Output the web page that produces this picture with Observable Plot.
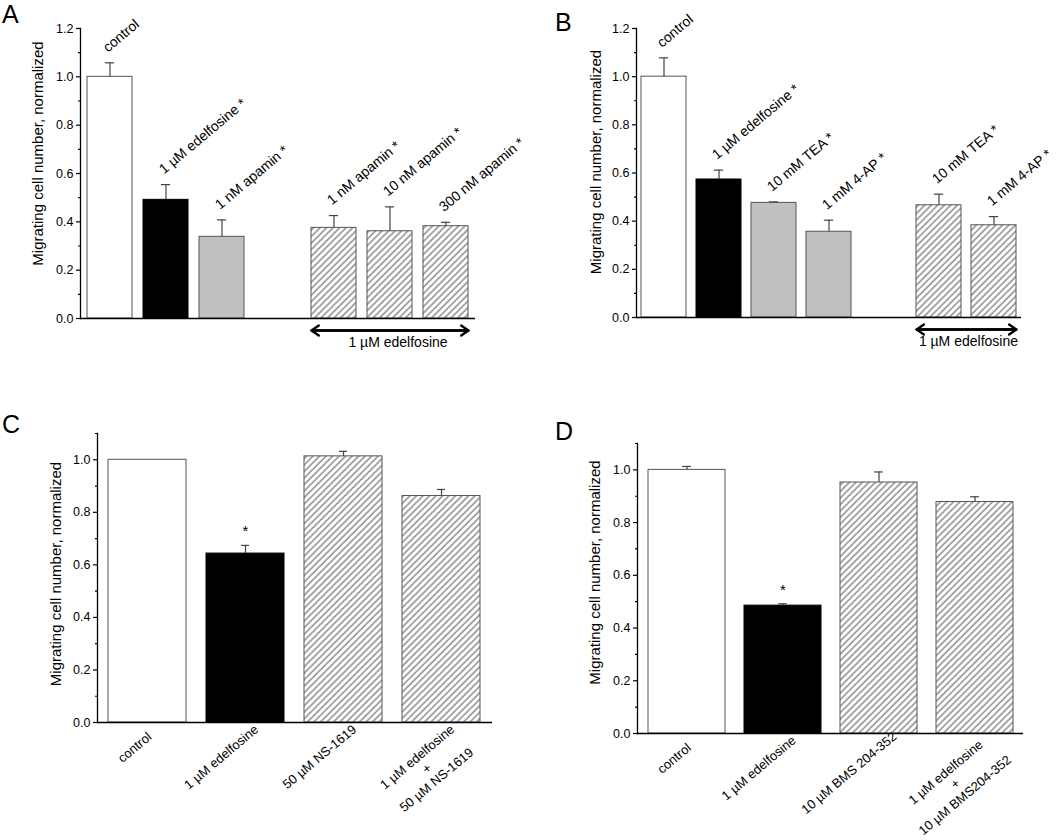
<!DOCTYPE html>
<html><head><meta charset="utf-8">
<script src="https://cdn.jsdelivr.net/npm/d3@7"></script>
<script src="https://cdn.jsdelivr.net/npm/@observablehq/plot@0.6"></script>
<style>
body{margin:0;background:#fff;font-family:"Liberation Sans",Arial,sans-serif}
#fig{position:relative;width:1063px;height:840px;background:#fff}
.panel{position:absolute}
.letter{position:absolute;font-size:25px;line-height:1;font-family:"Liberation Sans",Arial,sans-serif;color:#000}
</style></head><body><div id="fig"></div>
<script>
const FONT = '"Liberation Sans", Arial, Helvetica, sans-serif';
const yLabel = "Migrating cell number, normalized";

// ---- Panel A ----
const keysA = ["control", "edelfosine", "apamin 1 nM", "edelfosine + apamin 1 nM", "edelfosine + apamin 10 nM", "edelfosine + apamin 300 nM"];
const labelsA = ["control", "1 µM edelfosine *", "1 nM apamin *", "1 nM apamin *", "10 nM apamin *", "300 nM apamin *"];
const groupsA = ["control", "edelfosine", "blocker", "combo", "combo", "combo"];
const meansA = [1.000, 0.491, 0.338, 0.375, 0.361, 0.382];
const semsA = [0.058, 0.063, 0.070, 0.051, 0.101, 0.016];
const orderA = ["control", "edelfosine", "apamin 1 nM", "gap", "edelfosine + apamin 1 nM", "edelfosine + apamin 10 nM", "edelfosine + apamin 300 nM"];
const bracketA = [{from: "edelfosine + apamin 1 nM", to: "edelfosine + apamin 300 nM", at: "edelfosine + apamin 10 nM", label: "1 µM edelfosine"}];

// ---- Panel B ----
const keysB = ["control", "edelfosine", "TEA 10 mM", "4-AP 1 mM", "edelfosine + TEA 10 mM", "edelfosine + 4-AP 1 mM"];
const labelsB = ["control", "1 µM edelfosine *", "10 mM TEA *", "1 mM 4-AP *", "10 mM TEA *", "1 mM 4-AP *"];
const groupsB = ["control", "edelfosine", "blocker", "blocker", "combo", "combo"];
const meansB = [1.000, 0.573, 0.476, 0.356, 0.466, 0.383];
const semsB = [0.078, 0.039, 0.004, 0.048, 0.046, 0.036];
const orderB = ["control", "edelfosine", "TEA 10 mM", "4-AP 1 mM", "gap", "edelfosine + TEA 10 mM", "edelfosine + 4-AP 1 mM"];
const bracketB = [{from: "edelfosine + TEA 10 mM", to: "edelfosine + 4-AP 1 mM", at: "edelfosine + 4-AP 1 mM", label: "1 µM edelfosine"}];

// ---- Panel C ----
const keysC = ["control", "edelfosine", "NS-1619", "edelfosine + NS-1619"];
const labelsC = ["control", "1 µM edelfosine", "50 µM NS-1619", "1 µM edelfosine\n+\n50 µM NS-1619"];
const groupsC = ["control", "edelfosine", "combo", "combo"];
const meansC = [1.000, 0.643, 1.013, 0.862];
const semsC = [0.000, 0.031, 0.019, 0.025];
const sigC = [false, true, false, false];

// ---- Panel D ----
const keysD = ["control", "edelfosine", "BMS 204-352", "edelfosine + BMS 204-352"];
const labelsD = ["control", "1 µM edelfosine", "10 µM BMS 204-352", "1 µM edelfosine\n+\n10 µM BMS204-352"];
const groupsD = ["control", "edelfosine", "combo", "combo"];
const meansD = [1.000, 0.485, 0.952, 0.878];
const semsD = [0.013, 0.007, 0.040, 0.020];
const sigD = [false, true, false, false];

// ---- axis ticks ----
const majorTicks12 = [0, 0.2, 0.4, 0.6, 0.8, 1.0, 1.2];
const minorTicks12 = [0.1, 0.3, 0.5, 0.7, 0.9, 1.1];
const majorTicks11 = [0, 0.2, 0.4, 0.6, 0.8, 1.0];
const minorTicks11 = [0.1, 0.3, 0.5, 0.7, 0.9, 1.1];

function makePanel(cfg) {
  const data = cfg.keys.map((k, i) => ({
    key: k, label: cfg.labels[i], group: cfg.groups[i],
    mean: cfg.means[i], sem: cfg.sems[i], upper: cfg.means[i] + cfg.sems[i],
    sig: cfg.sig ? cfg.sig[i] : false
  }));
  const innerW = cfg.width - cfg.ml - cfg.mr;
  const n = cfg.order.length;
  const step = innerW / (n - cfg.pi + 2 * cfg.po);
  const bw = step * (1 - cfg.pi);
  const capInset = (bw - 9) / 2;
  const pid = "hatch" + cfg.id;
  const defs = () => {
    const d = d3.create("svg:defs");
    const p = d.append("pattern").attr("id", pid).attr("patternUnits", "userSpaceOnUse")
      .attr("width", 4.6).attr("height", 4.6).attr("patternTransform", "rotate(45)");
    p.append("rect").attr("width", 4.6).attr("height", 4.6).attr("fill", "white");
    p.append("line").attr("x1", 1).attr("x2", 1).attr("y1", -1).attr("y2", 6)
      .attr("stroke", "#9a9a9a").attr("stroke-width", 1.7);
    return d.node();
  };
  const fills = {control: "white", edelfosine: "black", blocker: "#c0c0c0", combo: `url(#${pid})`};
  const strokes = {control: "#555", edelfosine: "#000", blocker: "#555", combo: "#555"};
  const marks = [defs];
  for (const g of Object.keys(fills)) {
    marks.push(Plot.barY(data.filter(d => d.group === g), {x: "key", y: "mean", fill: fills[g], stroke: strokes[g], strokeWidth: 1}));
  }
  const withErr = data.filter(d => d.sem > 0);
  marks.push(
    Plot.ruleX(withErr, {x: "key", y1: "mean", y2: "upper", stroke: "#444", strokeWidth: 1.2}),
    Plot.tickY(withErr, {x: "key", y: "upper", insetLeft: capInset, insetRight: capInset, stroke: "#444", strokeWidth: 1.2}),
    Plot.ruleY([0], {stroke: "black", strokeWidth: 1.5}),
    Plot.frame({anchor: "left", stroke: "black", strokeWidth: 1.3}),
    Plot.axisY({ticks: cfg.major, tickFormat: d3.format(".1f"), tickSize: 4, tickPadding: 3, fontSize: 12.5, label: null, stroke: "black", strokeWidth: 1.2}),
    Plot.axisY({ticks: cfg.minor, tickFormat: () => "", tickSize: 2, label: null, stroke: "black", strokeWidth: 1.2}),
    Plot.text([yLabel], {frameAnchor: "left", textAnchor: "middle", lineAnchor: "middle", rotate: -90, dx: cfg.ylDx, dy: cfg.ylDy, fontSize: 15})
  );
  if (cfg.topLabels) {
    marks.push(Plot.text(data, {x: "key", y: "upper", text: "label", textAnchor: "start", lineAnchor: "bottom", rotate: -40, dx: -2, dy: -10, fontSize: 14}));
  } else {
    marks.push(Plot.text(data, {x: "key", frameAnchor: "bottom", text: "label", textAnchor: "end", lineAnchor: "top", rotate: -40, dx: 3, dy: 3.5, fontSize: 13, lineHeight: 1.15, className: "xlab"}));
  }
  if (cfg.sig) {
    marks.push(Plot.text(data.filter(d => d.sig), {x: "key", y: "upper", text: () => "*", dy: -14, fontSize: 15}));
  }
  if (cfg.bracket) {
    const ins = -bw / 2;
    marks.push(
      Plot.arrow(cfg.bracket, {x1: "from", x2: "to", y: 0, dy: 12, insetStart: ins, insetEnd: ins, stroke: "black", strokeWidth: 2.4, headLength: 5.5, headAngle: 70}),
      Plot.arrow(cfg.bracket, {x1: "to", x2: "from", y: 0, dy: 12, insetStart: ins, insetEnd: ins, stroke: "black", strokeWidth: 2.4, headLength: 5.5, headAngle: 70}),
      Plot.text(cfg.bracket, {x: "at", frameAnchor: "bottom", text: "label", textAnchor: cfg.brAnchor, dx: cfg.brDx, dy: 28, fontSize: 14})
    );
  }
  return Plot.plot({
    width: cfg.width, height: cfg.height,
    marginLeft: cfg.ml, marginRight: cfg.mr, marginTop: cfg.mt, marginBottom: cfg.mb,
    style: {fontFamily: FONT, fontSize: "12px", overflow: "visible", color: "black", background: "transparent"},
    x: {type: "band", domain: cfg.order, paddingInner: cfg.pi, paddingOuter: cfg.po, axis: null},
    y: {domain: cfg.yDomain},
    marks
  });
}

const panels = [
  {id: "A", left: 0, top: 0, width: 525, height: 370, ml: 80, mr: 50, mt: 28, mb: 52, pi: 0.2, po: 0.12,
   keys: keysA, labels: labelsA, groups: groupsA, means: meansA, sems: semsA, order: orderA,
   yDomain: [0, 1.2], major: majorTicks12, minor: minorTicks12, ylDx: -42, ylDy: -20, topLabels: true,
   bracket: bracketA, brAnchor: "middle", brDx: 8, letterLeft: 2, letterTop: 2},
  {id: "B", left: 530, top: 0, width: 533, height: 370, ml: 106, mr: 42, mt: 28, mb: 53, pi: 0.19, po: 0.085,
   keys: keysB, labels: labelsB, groups: groupsB, means: meansB, sems: semsB, order: orderB,
   yDomain: [0, 1.2], major: majorTicks12, minor: minorTicks12, ylDx: -40, ylDy: -11, topLabels: true,
   bracket: bracketB, brAnchor: "end", brDx: 24, letterLeft: 555, letterTop: 10},
  {id: "C", left: 0, top: 410, width: 525, height: 430, ml: 97, mr: 33, mt: 23, mb: 118, pi: 0.2, po: 0.1,
   keys: keysC, labels: labelsC, groups: groupsC, means: meansC, sems: semsC, sig: sigC, order: keysC,
   yDomain: [0, 1.1], major: majorTicks11, minor: minorTicks11, ylDx: -41, ylDy: -4, topLabels: false,
   letterLeft: 2, letterTop: 412},
  {id: "D", left: 530, top: 410, width: 533, height: 430, ml: 107, mr: 40, mt: 33, mb: 107, pi: 0.2, po: 0.1,
   keys: keysD, labels: labelsD, groups: groupsD, means: meansD, sems: semsD, sig: sigD, order: keysD,
   yDomain: [0, 1.1], major: majorTicks11, minor: minorTicks11, ylDx: -42, ylDy: -16, topLabels: false,
   letterLeft: 555, letterTop: 419}
];

const fig = document.getElementById("fig");
for (const cfg of panels) {
  const div = document.createElement("div");
  div.className = "panel";
  div.style.left = cfg.left + "px";
  div.style.top = cfg.top + "px";
  div.appendChild(makePanel(cfg));
  fig.appendChild(div);
  const L = document.createElement("div");
  L.className = "letter";
  L.textContent = cfg.id;
  L.style.left = cfg.letterLeft + "px";
  L.style.top = cfg.letterTop + "px";
  fig.appendChild(L);
}
// rotated category labels: centre multi-line labels on each other and slide
// longer labels along their baseline, as the original figure software does
document.querySelectorAll(".xlab text").forEach(t => {
  const spans = Array.from(t.querySelectorAll("tspan"));
  if (spans.length === 0) {
    const m = t.getComputedTextLength();
    t.setAttribute("x", 0.22 * m - 15);
    return;
  }
  const w = spans.map(s => s.getComputedTextLength());
  const m = Math.max(...w);
  const shift = 0.22 * m - 15;
  spans.forEach((s, i) => s.setAttribute("x", shift - (m - w[i]) / 2));
});
</script>
</body></html>
